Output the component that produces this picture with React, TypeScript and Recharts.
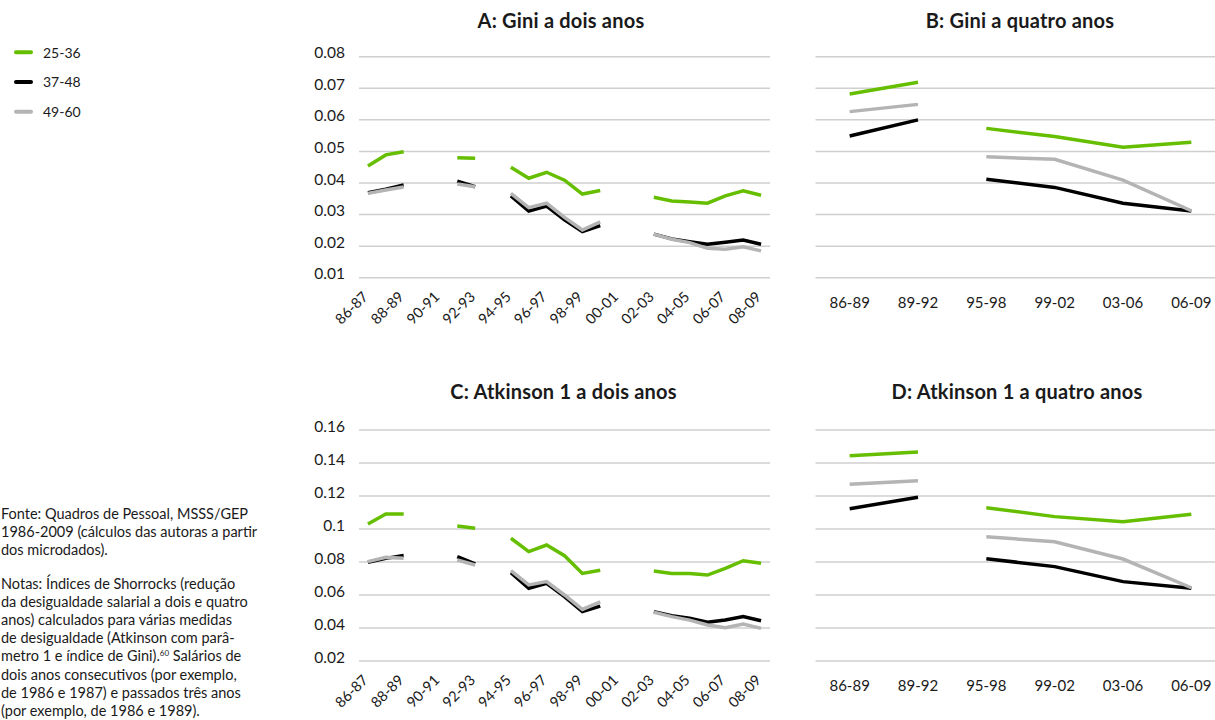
import { LineChart, Line, XAxis, YAxis, CartesianGrid } from "recharts";

const FONT = "Lato, 'Open Sans', sans-serif";
const GREEN = "#66be00";
const BLACK = "#000000";
const GREY = "#b4b4b4";
const GRID = "#cfcfcf";
const INK = "#1a1a1a";

const N = null;

// two-year windows (panels A and C)
const twoYearCats = [
  "86-87", "87-88", "88-89", "89-90", "90-91", "91-92", "92-93", "93-94",
  "94-95", "95-96", "96-97", "97-98", "98-99", "99-00", "00-01", "01-02",
  "02-03", "03-04", "04-05", "05-06", "06-07", "07-08", "08-09",
];

const giniTwo25 = [0.0454, 0.0489, 0.0499, N, N, 0.048, 0.0478, N, 0.045, 0.0415, 0.0434, 0.0409, 0.0365, 0.0376, N, N, 0.0355, 0.0343, 0.034, 0.0336, 0.0359, 0.0375, 0.0361];
const giniTwo37 = [0.0369, 0.038, 0.0394, N, N, 0.0406, 0.0388, N, 0.0359, 0.0311, 0.0327, 0.0283, 0.0246, 0.0265, N, N, 0.0238, 0.0223, 0.0214, 0.0206, 0.0212, 0.0219, 0.0206];
const giniTwo49 = [0.0367, 0.0378, 0.0387, N, N, 0.0397, 0.0388, N, 0.0367, 0.0322, 0.0336, 0.0291, 0.0251, 0.0277, N, N, 0.0238, 0.0222, 0.0211, 0.0193, 0.019, 0.0198, 0.0185];

const atkTwo25 = [0.103, 0.1091, 0.1091, N, N, 0.1018, 0.1004, N, 0.0944, 0.0863, 0.0903, 0.0838, 0.0731, 0.075, N, N, 0.0745, 0.0731, 0.0731, 0.0721, 0.0762, 0.0808, 0.0792];
const atkTwo37 = [0.0798, 0.0822, 0.084, N, N, 0.0832, 0.0788, N, 0.0735, 0.0641, 0.0671, 0.059, 0.0499, 0.0533, N, N, 0.0499, 0.0475, 0.0459, 0.0435, 0.0448, 0.0469, 0.0444];
const atkTwo49 = [0.0802, 0.0828, 0.0822, N, N, 0.0812, 0.0782, N, 0.0747, 0.0661, 0.0681, 0.06, 0.0513, 0.0559, N, N, 0.0495, 0.0469, 0.0448, 0.0418, 0.0402, 0.0424, 0.0398];

// four-year windows (panels B and D); the line breaks after the second one
const fourYearCats = ["86-89", "89-92", "95-98", "99-02", "03-06", "06-09"];
const fourYearBreak = 2;

const giniFour25 = [0.0682, 0.0719, 0.0573, 0.0547, 0.0513, 0.0529];
const giniFour37 = [0.0549, 0.06, 0.0412, 0.0386, 0.0336, 0.0311];
const giniFour49 = [0.0626, 0.0649, 0.0483, 0.0475, 0.0409, 0.0312];

const atkFour25 = [0.1444, 0.1467, 0.1129, 0.1075, 0.1044, 0.1089];
const atkFour37 = [0.1123, 0.1192, 0.082, 0.0772, 0.0681, 0.0641];
const atkFour49 = [0.1271, 0.1293, 0.0953, 0.0923, 0.0818, 0.0644];

const giniTicks = [0.01, 0.02, 0.03, 0.04, 0.05, 0.06, 0.07, 0.08];
const atkTicks = [0.02, 0.04, 0.06, 0.08, 0.1, 0.12, 0.14, 0.16];

const groups = [
  { label: "25-36", color: GREEN },
  { label: "37-48", color: BLACK },
  { label: "49-60", color: GREY },
];

function twoYearRows(a: (number | null)[], b: (number | null)[], c: (number | null)[]) {
  return twoYearCats.map((cat, i) => ({ cat, s0: a[i], s1: b[i], s2: c[i] }));
}

function fourYearRows(a: number[], b: number[], c: number[]) {
  return fourYearCats.map((cat, i) => {
    const first = i < fourYearBreak;
    const row: Record<string, string | number | null> = { cat };
    [a, b, c].forEach((s, k) => {
      row[`s${k}a`] = first ? s[i] : null;
      row[`s${k}b`] = first ? null : s[i];
    });
    return row;
  });
}

const twoKeys = groups.map((g, k) => ({ key: `s${k}`, color: g.color }));
const fourKeys = groups.flatMap((g, k) => [
  { key: `s${k}a`, color: g.color },
  { key: `s${k}b`, color: g.color },
]);

const fmt = (v: number) => String(+v.toFixed(2));

function YTick({ x, y, payload }: any) {
  return (
    <text x={x} y={y - 4} dy="0.36em" textAnchor="end" fontSize={15.5} fill={INK} fontFamily={FONT}>
      {fmt(payload.value)}
    </text>
  );
}

function RotTick({ x, y, payload }: any) {
  const tx = x + 1;
  const ty = y + 12;
  return (
    <text x={tx} y={ty} transform={`rotate(-45 ${tx} ${ty})`} textAnchor="end" fontSize={14.5} fill={INK} fontFamily={FONT}>
      {payload.value}
    </text>
  );
}

function FlatTick({ x, y, payload }: any) {
  return (
    <text x={x} y={y + 22} textAnchor="middle" fontSize={15} fill={INK} fontFamily={FONT}>
      {payload.value}
    </text>
  );
}

function Panel({
  left, top, width, height, margin, rows, keys, domain, ticks, showY, rotated,
}: {
  left: number; top: number; width: number; height: number;
  margin: { top: number; right: number; bottom: number; left: number };
  rows: any[]; keys: { key: string; color: string }[];
  domain: [number, number]; ticks: number[]; showY: boolean; rotated: boolean;
}) {
  return (
    <div style={{ position: "absolute", left, top }}>
      <LineChart width={width} height={height} data={rows} margin={margin}>
        <CartesianGrid vertical={false} stroke={GRID} strokeWidth={1.5} />
        <XAxis
          dataKey="cat"
          scale="band"
          interval={rotated ? 1 : 0}
          axisLine={false}
          tickLine={false}
          height={rotated ? 60 : 40}
          tick={rotated ? RotTick : FlatTick}
        />
        <YAxis
          hide={!showY}
          width={59}
          type="number"
          domain={domain}
          ticks={ticks}
          allowDataOverflow
          axisLine={false}
          tickLine={false}
          tickMargin={8}
          tick={YTick}
        />
        {keys.map((k) => (
          <Line
            key={k.key}
            dataKey={k.key}
            stroke={k.color}
            strokeWidth={3.5}
            dot={false}
            activeDot={false}
            connectNulls={false}
            isAnimationActive={false}
          />
        ))}
      </LineChart>
    </div>
  );
}

const noteLines1 = [
  "Fonte: Quadros de Pessoal, MSSS/GEP",
  "1986-2009 (cálculos das autoras a partir",
  "dos microdados).",
];
const noteLines2 = [
  "Notas: Índices de Shorrocks (redução",
  "da desigualdade salarial a dois e quatro",
  "anos) calculados para várias medidas",
  "de desigualdade (Atkinson com parâ-",
  "metro 1 e índice de Gini).",
  "dois anos consecutivos (por exemplo,",
  "de 1986 e 1987) e passados três anos",
  "(por exemplo, de 1986 e 1989).",
];

export default function App() {
  const lh = 18.2;
  return (
    <div
      style={{
        position: "absolute", left: 0, top: 0, width: 1215, height: 720,
        overflow: "hidden", background: "#fff", fontFamily: FONT,
      }}
    >
      <svg width={1215} height={720} style={{ position: "absolute", left: 0, top: 0 }} fontFamily={FONT} fill={INK}>
        <g fontSize={20} fontWeight={700} textAnchor="middle" letterSpacing={0.2}>
          <text x={561} y={27.7}>A: Gini a dois anos</text>
          <text x={1020} y={27.7}>B: Gini a quatro anos</text>
          <text x={563.5} y={398.7}>C: Atkinson 1 a dois anos</text>
          <text x={1017} y={398.7}>D: Atkinson 1 a quatro anos</text>
        </g>
        {groups.map((g, i) => (
          <g key={g.label}>
            <line x1={16} x2={31} y1={52.3 + i * 29.7} y2={52.3 + i * 29.7} stroke={g.color} strokeWidth={4} strokeLinecap="round" />
            <text x={43} y={57.5 + i * 29.7} fontSize={14}>{g.label}</text>
          </g>
        ))}
        <g fontSize={14.5}>
          {noteLines1.map((t, i) => (
            <text key={t} x={1} y={519 + i * lh}>{t}</text>
          ))}
          {noteLines2.map((t, i) => (
            <text key={t} x={1} y={588.5 + i * lh}>
              {t}
              {i === 4 && (
                <>
                  <tspan fontSize={8} dy={-5}>60</tspan>
                  <tspan dy={5}> Salários de</tspan>
                </>
              )}
            </text>
          ))}
        </g>
      </svg>

      <Panel
        left={300} top={0} width={480} height={360}
        margin={{ top: 56.7, right: 10, bottom: 22.3, left: 0 }}
        rows={twoYearRows(giniTwo25, giniTwo37, giniTwo49)}
        keys={twoKeys} domain={[0.01, 0.08]} ticks={giniTicks} showY rotated
      />
      <Panel
        left={780} top={0} width={450} height={360}
        margin={{ top: 56.7, right: 4.5, bottom: 42.3, left: 35.5 }}
        rows={fourYearRows(giniFour25, giniFour37, giniFour49)}
        keys={fourKeys} domain={[0.01, 0.08]} ticks={giniTicks} showY={false} rotated={false}
      />
      <Panel
        left={300} top={373} width={480} height={360}
        margin={{ top: 57, right: 10, bottom: 12, left: 0 }}
        rows={twoYearRows(atkTwo25, atkTwo37, atkTwo49)}
        keys={twoKeys} domain={[0.02, 0.16]} ticks={atkTicks} showY rotated
      />
      <Panel
        left={780} top={373} width={450} height={360}
        margin={{ top: 57, right: 4.5, bottom: 32, left: 35.5 }}
        rows={fourYearRows(atkFour25, atkFour37, atkFour49)}
        keys={fourKeys} domain={[0.02, 0.16]} ticks={atkTicks} showY={false} rotated={false}
      />
    </div>
  );
}
